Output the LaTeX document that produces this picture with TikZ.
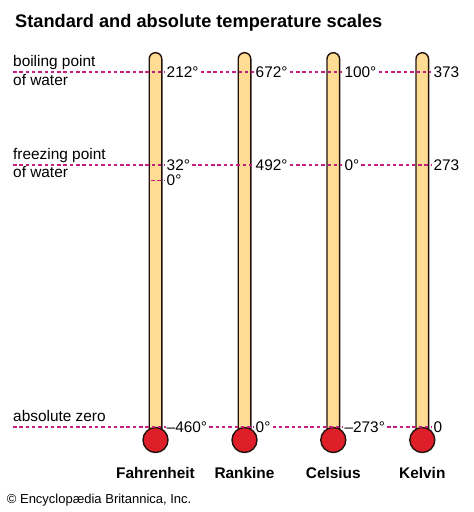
\documentclass[tikz,border=0pt]{standalone}
\usepackage{fontspec}
\setmainfont{Liberation Sans}
\definecolor{dashpink}{RGB}{196,32,128}
\definecolor{tubefill}{RGB}{254,220,148}
\definecolor{bulbred}{RGB}{222,30,40}
\definecolor{outlinec}{RGB}{35,18,12}
\tikzset{
  val/.style={anchor=west, inner sep=0pt, font=\fontsize{15.4}{18}\selectfont},
  lbl/.style={anchor=base west, inner sep=0pt, font=\fontsize{15.4}{18}\selectfont},
  scalename/.style={anchor=base, inner sep=0pt, font=\fontsize{15.4}{18}\selectfont\bfseries},
  guide/.style={draw=dashpink, line width=1.7pt, dash pattern=on 3.5pt off 2.8pt},
  tubebox/.style={draw=outlinec, fill=tubefill, line width=1.4pt},
  bulbbox/.style={draw=outlinec, fill=bulbred, line width=1.4pt},
}
\begin{document}
\begin{tikzpicture}[x=1pt,y=-1pt]
\useasboundingbox[fill=white] (0,0) rectangle (474,512);
% title
\node[anchor=base west, inner sep=0pt, font=\fontsize{18.2}{22}\selectfont\bfseries] (title) at (15,27) {Standard and absolute temperature scales};
% thermometers
\foreach \cx/\nm in {155.5/F,244.5/R,333.3/C,422.3/K}{
  \path[tubebox] (\cx-6.3,440) -- (\cx-6.3,59) arc (180:360:6.3) -- (\cx+6.3,440) -- cycle;
  \node[bulbbox, circle, minimum size=25pt, inner sep=0pt] (bulb\nm) at (\cx,440) {};
}
% left labels
\node[lbl] (bp1) at (13,66.7) {boiling point};
\node[lbl] (bp2) at (13,85) {of water};
\node[lbl] (fp1) at (13,159) {freezing point};
\node[lbl] (fp2) at (13,177.7) {of water};
\node[lbl] (az) at (13,421.7) {absolute zero};
% values
\node[val] (F212) at (166.5,72) {212°};
\node[val] (R672) at (255.5,72) {672°};
\node[val] (C100) at (344.3,72) {100°};
\node[val] (K373) at (433.3,72) {373};
\node[val] (F32) at (166.5,165) {32°};
\node[val] (R492) at (255.5,165) {492°};
\node[val] (C0) at (344.3,165) {0°};
\node[val] (K273) at (433.3,165) {273};
\node[val] (F0) at (166.5,180.5) {0°};
\node[val] (Fabs) at (166.5,427) {–460°};
\node[val] (Rabs) at (255.5,427) {0°};
\node[val] (Cabs) at (344.3,427) {–273°};
\node[val] (Kabs) at (433.3,427) {0};
% guide line starts
\coordinate (sb) at (13,72);
\coordinate (sf) at (13,165);
\coordinate (sz) at (151,180.5);
\coordinate (sa) at (13,427);
% guide lines
\draw[guide, shorten >=2pt] (sb) -- (F212.west);
\draw[guide, shorten >=2pt, shorten <=2pt] (F212.east) -- (R672.west);
\draw[guide, shorten >=2pt, shorten <=2pt] (R672.east) -- (C100.west);
\draw[guide, shorten >=2pt, shorten <=2pt] (C100.east) -- (K373.west);
\draw[guide, shorten >=2pt] (sf) -- (F32.west);
\draw[guide, shorten >=2pt, shorten <=2pt] (F32.east) -- (R492.west);
\draw[guide, shorten >=2pt, shorten <=2pt] (R492.east) -- (C0.west);
\draw[guide, shorten >=2pt, shorten <=2pt] (C0.east) -- (K273.west);
\draw[guide, shorten >=2pt] (sz) -- (F0.west);
\draw[guide, shorten >=1pt] (sa) -- (Fabs.west);
\draw[guide, shorten >=2pt, shorten <=2pt] (Fabs.east) -- (Rabs.west);
\draw[guide, shorten >=2pt, shorten <=2pt] (Rabs.east) -- (Cabs.west);
\draw[guide, shorten >=2pt, shorten <=2pt] (Cabs.east) -- (Kabs.west);
% scale names
\node[scalename] (nF) at (155.5,478) {Fahrenheit};
\node[scalename] (nR) at (244.5,478) {Rankine};
\node[scalename] (nC) at (333.3,478) {Celsius};
\node[scalename] (nK) at (422.3,478) {Kelvin};
% copyright
\node[anchor=base west, inner sep=0pt, font=\fontsize{13}{16}\selectfont] (copy) at (6.7,503.5) {© Encyclopædia Britannica, Inc.};
\end{tikzpicture}
\end{document}
